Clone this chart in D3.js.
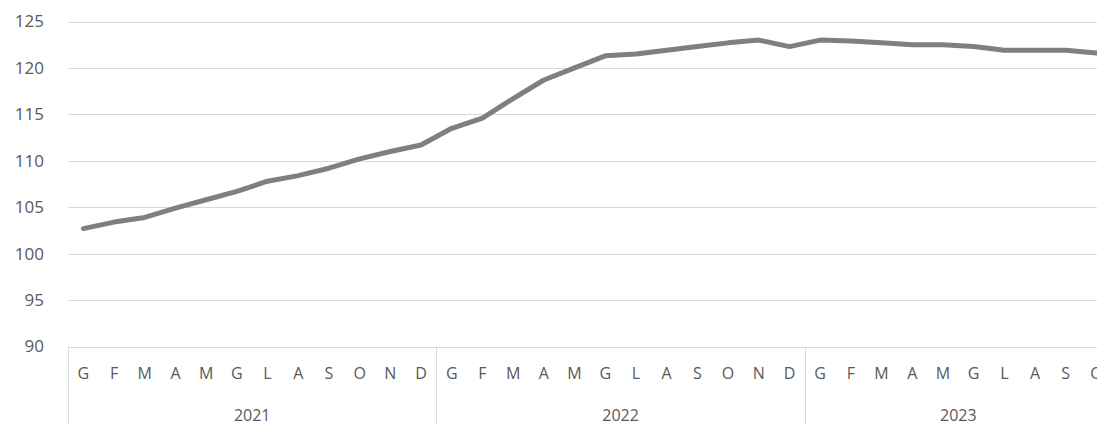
<!DOCTYPE html>
<html>
<head>
<meta charset="utf-8">
<script src="https://cdn.jsdelivr.net/npm/d3@7"></script>
<style>
  html, body { margin: 0; padding: 0; background: #fff; overflow: hidden; }
  svg { display: block; }
</style>
</head>
<body>
<svg id="chart" width="1097" height="425"></svg>
<script>
const years = ["2021", "2022", "2023"];
const monthLabels = ["G","F","M","A","M","G","L","A","S","O","N","D"];
const monthsPerYear = [12, 12, 10];
const values = [
  102.7, 103.4, 103.9, 104.9, 105.8, 106.7, 107.8, 108.4, 109.2, 110.2, 111.0, 111.7,
  113.5, 114.6, 116.7, 118.7, 120.0, 121.3, 121.5, 121.9, 122.3, 122.7, 123.0, 122.3,
  123.0, 122.9, 122.7, 122.5, 122.5, 122.3, 121.9, 121.9, 121.9, 121.6
];
const yTicks = [90, 95, 100, 105, 110, 115, 120, 125];

// build category list
const cats = [];
years.forEach((yr, yi) => {
  for (let m = 0; m < monthsPerYear[yi]; m++) {
    cats.push({ key: yr + "-" + m, year: yr, label: monthLabels[m] });
  }
});

const svg = d3.select("#chart");
const plotLeft = 68, monthW = 30.7;
const x = d3.scaleBand()
  .domain(cats.map(d => d.key))
  .range([plotLeft, plotLeft + cats.length * monthW])
  .paddingInner(0).paddingOuter(0);
const y = d3.scaleLinear().domain([90, 125]).range([346.5, 21.5]);

const textColor = "#595959";
const font = "'Open Sans', sans-serif";

// gridlines
svg.append("g").selectAll("line").data(yTicks).join("line")
  .attr("x1", plotLeft).attr("x2", x.range()[1])
  .attr("y1", d => Math.round(y(d)) + 0.5).attr("y2", d => Math.round(y(d)) + 0.5)
  .attr("stroke", "#d9d9d9").attr("stroke-width", 1);

// y axis labels
svg.append("g").selectAll("text").data(yTicks).join("text")
  .attr("x", 44).attr("y", d => y(d))
  .attr("dy", "0.35em")
  .attr("text-anchor", "end")
  .attr("fill", textColor)
  .style("font-family", font).style("font-size", "17px")
  .text(d => d);

// month labels
svg.append("g").selectAll("text").data(cats).join("text")
  .attr("x", d => x(d.key) + x.bandwidth() / 2)
  .attr("y", 373)
  .attr("dy", "0.35em")
  .attr("text-anchor", "middle")
  .attr("fill", textColor)
  .style("font-family", font).style("font-size", "16px")
  .text(d => d.label);

// year groups
let start = 0;
const groups = years.map((yr, yi) => {
  const first = cats[start].key, last = cats[start + monthsPerYear[yi] - 1].key;
  start += monthsPerYear[yi];
  return { year: yr, x0: x(first), x1: x(last) + x.bandwidth() };
});

// separators
const sepX = [groups[0].x0].concat(groups.map(g => g.x1));
svg.append("g").selectAll("line").data(sepX).join("line")
  .attr("x1", d => Math.round(d) + 0.5).attr("x2", d => Math.round(d) + 0.5)
  .attr("y1", y(90)).attr("y2", 425)
  .attr("stroke", "#d9d9d9").attr("stroke-width", 1);

svg.append("g").selectAll("text").data(groups).join("text")
  .attr("x", d => (d.x0 + d.x1) / 2)
  .attr("y", 415)
  .attr("dy", "0.35em")
  .attr("text-anchor", "middle")
  .attr("fill", textColor)
  .style("font-family", font).style("font-size", "16px")
  .text(d => d.year);

// line
const line = d3.line()
  .x((d, i) => x(cats[i].key) + x.bandwidth() / 2)
  .y(d => y(d));
svg.append("path").datum(values)
  .attr("d", line)
  .attr("fill", "none")
  .attr("stroke", "#7f7f7f")
  .attr("stroke-width", 5)
  .attr("stroke-linejoin", "round")
  .attr("stroke-linecap", "round");
</script>
</body>
</html>
